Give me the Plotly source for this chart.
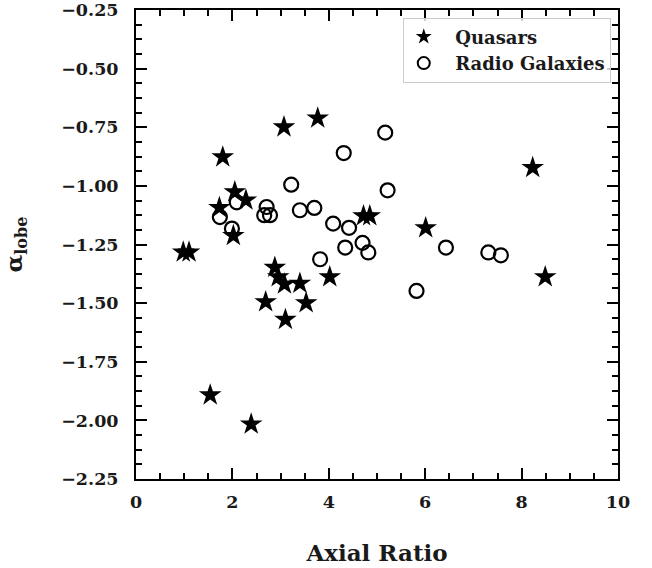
import plotly.graph_objects as go

quasar_x = [0.98, 1.10, 1.54, 2.39, 1.80, 3.07, 3.77, 8.23, 2.05, 2.28, 1.73, 2.02,
            4.72, 4.85, 6.01, 8.49, 2.88, 2.95, 3.08, 3.40, 4.02, 2.69, 3.53, 3.10]
quasar_y = [-1.283, -1.283, -1.892, -2.016, -0.877, -0.749, -0.711, -0.922, -1.026, -1.061,
            -1.093, -1.212, -1.128, -1.128, -1.179, -1.388, -1.348, -1.388, -1.419, -1.416,
            -1.388, -1.495, -1.499, -1.570]

rg_x = [4.31, 5.17, 3.22, 5.22, 2.71, 2.66, 2.78, 1.74, 1.99, 2.09, 3.40, 3.70, 4.09,
        4.42, 4.34, 4.70, 4.82, 3.82, 6.43, 7.31, 7.57, 5.82]
rg_y = [-0.860, -0.773, -0.995, -1.019, -1.090, -1.125, -1.125, -1.133, -1.182, -1.070,
        -1.104, -1.094, -1.161, -1.179, -1.263, -1.243, -1.284, -1.313, -1.263, -1.284,
        -1.296, -1.448]

x_ticks = [0, 2, 4, 6, 8, 10]
y_ticks = [-0.25, -0.50, -0.75, -1.00, -1.25, -1.50, -1.75, -2.00, -2.25]

FONT = "DejaVu Serif"
TXT = "#1a1a1a"

fig = go.Figure()
fig.add_trace(go.Scatter(
    x=quasar_x, y=quasar_y, mode="markers", name="  <b>Quasars</b>",
    marker=dict(symbol="star", size=17, color="black", line=dict(width=0)),
))
fig.add_trace(go.Scatter(
    x=rg_x, y=rg_y, mode="markers", name="  <b>Radio Galaxies</b>",
    marker=dict(symbol="circle-open", size=14, color="black", line=dict(width=2.2, color="black")),
))

axis_common = dict(
    showgrid=False, zeroline=False, showline=True, linecolor="black", linewidth=2,
    mirror="ticks", ticks="inside", ticklen=11, tickwidth=2, tickcolor="black",
    tickfont=dict(family=FONT, size=17.5, color=TXT), automargin=False,
    ticklabeloverflow="allow",
)

fig.update_xaxes(
    range=[0, 10], tickvals=x_ticks, ticktext=[f"<b>{v}</b>" for v in x_ticks],
    minor=dict(ticks="inside", dtick=0.5, ticklen=6, tickwidth=1.8, tickcolor="black"),
    title=dict(text="<b>Axial Ratio</b>", font=dict(family=FONT, size=23, color=TXT), standoff=34),
    ticklabelstandoff=6,
    **axis_common,
)
fig.update_yaxes(
    range=[-2.25, -0.25], tickvals=y_ticks,
    ticktext=[f"<b>{v:.2f}</b>".replace("-", "\u2212") for v in y_ticks],
    minor=dict(ticks="inside", dtick=0.0625, tick0=-0.25, ticklen=6, tickwidth=1.8, tickcolor="black"),
    title=dict(text="<b>α<sub>lobe</sub></b>", font=dict(family=FONT, size=23, color=TXT), standoff=38),
    ticklabelstandoff=12,
    **axis_common,
)

fig.update_layout(
    width=652, height=568,
    margin=dict(l=136, r=34, t=10, b=89, autoexpand=False),
    plot_bgcolor="white", paper_bgcolor="white",
    font=dict(family=FONT, color=TXT),
    legend=dict(
        x=0.985, y=0.984, xanchor="right", yanchor="top",
        bgcolor="rgba(255,255,255,0.8)", bordercolor="#cccccc", borderwidth=1,
        font=dict(family=FONT, size=18, color=TXT),
        itemsizing="constant", tracegroupgap=0,
    ),
    showlegend=True,
)

fig.write_html("out.html")
